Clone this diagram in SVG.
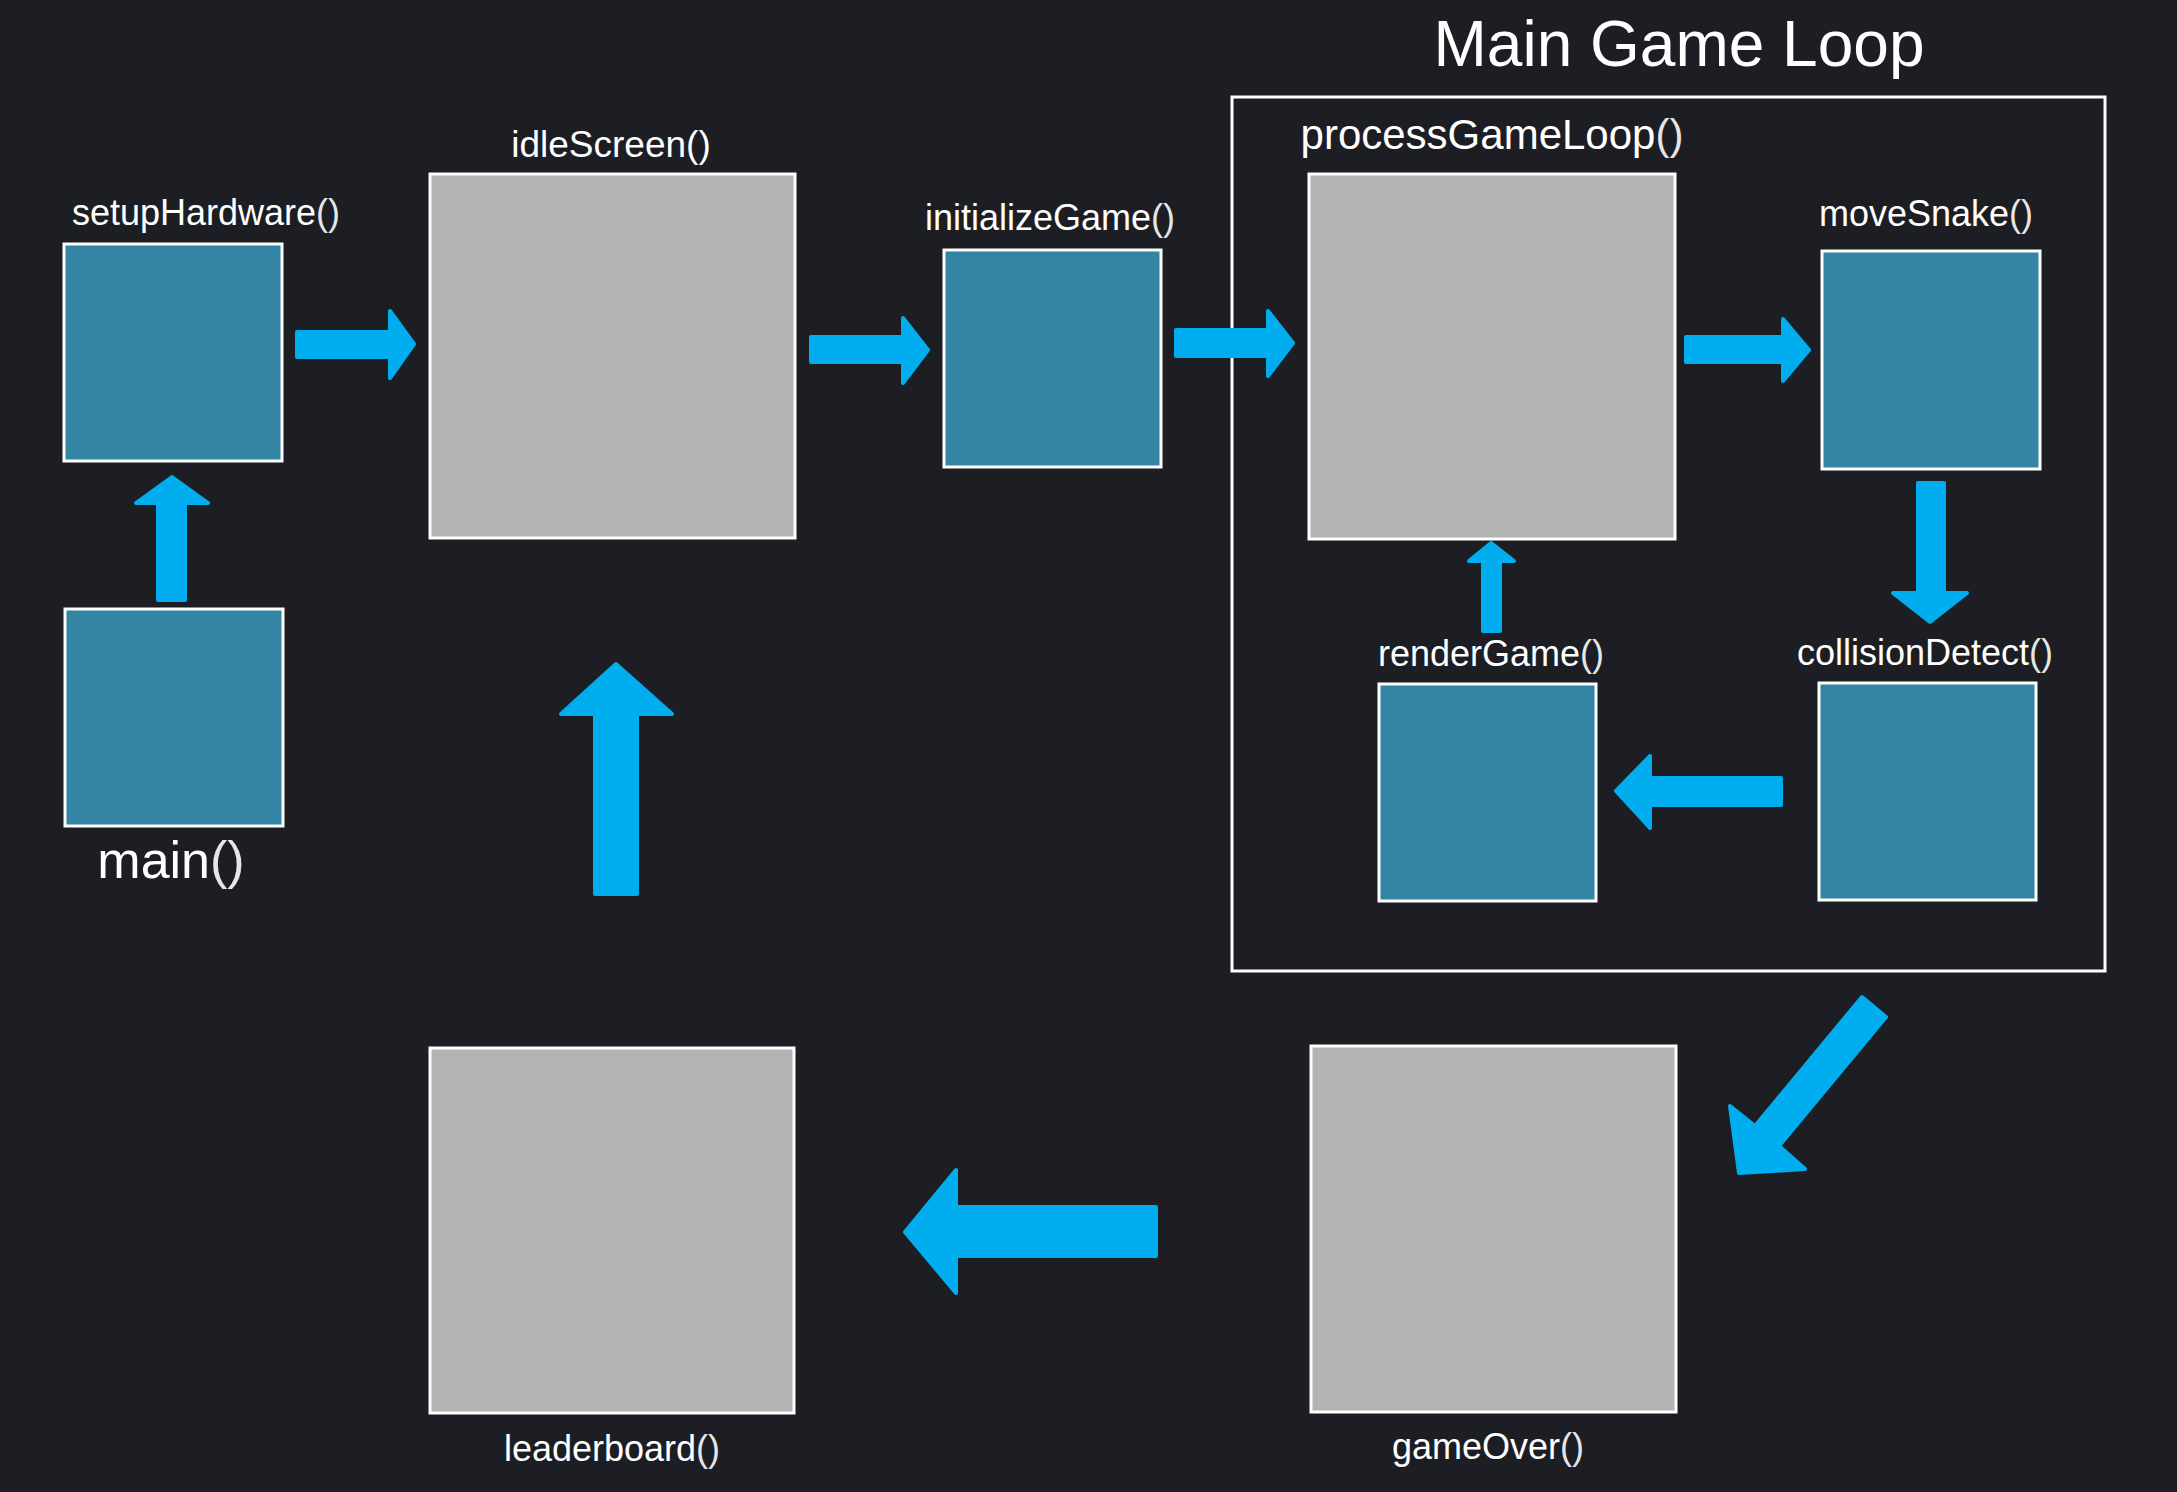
<svg xmlns="http://www.w3.org/2000/svg" width="2177" height="1492" viewBox="0 0 2177 1492">
<style>
.bg{fill:#1d1e23}
.teal{fill:#3385a3;stroke:#ffffff;stroke-width:3}
.gray{fill:#b3b3b4;stroke:#ffffff;stroke-width:3}
.frame{fill:none;stroke:#ffffff;stroke-width:3}
.lbl{font-family:"Liberation Sans",Arial,sans-serif;fill:#ffffff;text-anchor:middle}
.arr{fill:#00aeef;stroke:#00aeef;stroke-width:4;stroke-linejoin:round}
.p{fill:#e6e6e6}
</style>
<rect class="bg" x="0" y="0" width="2177" height="1492"/>

<g id="loop-frame">
<rect class="frame" x="1232" y="97" width="873" height="874"/>
<text class="lbl" x="1679" y="66" font-size="64">Main Game Loop</text>
</g>

<g id="main">
<rect class="teal" x="65" y="609" width="218" height="217"/>
<text class="lbl" x="171" y="878" font-size="52">main<tspan class="p">()</tspan></text>
</g>
<g id="setupHardware">
<rect class="teal" x="64" y="244" width="218" height="217"/>
<text class="lbl" x="206" y="225" font-size="36">setupHardware<tspan class="p">()</tspan></text>
</g>
<g id="idleScreen">
<rect class="gray" x="430" y="174" width="365" height="364"/>
<text class="lbl" x="611" y="157" font-size="37">idleScreen()</text>
</g>
<g id="initializeGame">
<rect class="teal" x="944" y="250" width="217" height="217"/>
<text class="lbl" x="1050" y="230" font-size="36">initializeGame<tspan class="p">()</tspan></text>
</g>
<g id="processGameLoop">
<rect class="gray" x="1309" y="174" width="366" height="365"/>
<text class="lbl" x="1492" y="149" font-size="42">processGameLoop<tspan class="p">()</tspan></text>
</g>
<g id="moveSnake">
<rect class="teal" x="1822" y="251" width="218" height="218"/>
<text class="lbl" x="1926" y="226" font-size="36">moveSnake<tspan class="p">()</tspan></text>
</g>
<g id="collisionDetect">
<rect class="teal" x="1819" y="683" width="217" height="217"/>
<text class="lbl" x="1925" y="665" font-size="36">collisionDetect<tspan class="p">()</tspan></text>
</g>
<g id="renderGame">
<rect class="teal" x="1379" y="684" width="217" height="217"/>
<text class="lbl" x="1491" y="666" font-size="36">renderGame<tspan class="p">()</tspan></text>
</g>
<g id="gameOver">
<rect class="gray" x="1311" y="1046" width="365" height="366"/>
<text class="lbl" x="1488" y="1459" font-size="36">gameOver<tspan class="p">()</tspan></text>
</g>
<g id="leaderboard">
<rect class="gray" x="430" y="1048" width="364" height="365"/>
<text class="lbl" x="612" y="1461" font-size="36">leaderboard<tspan class="p">()</tspan></text>
</g>

<g id="connectors">
<polygon class="arr" points="297,332 390,332 390,311 414,344 390,378 390,357 297,357"/>
<polygon class="arr" points="811,337 903,337 903,318 928,350 903,383 903,362 811,362"/>
<polygon class="arr" points="1176,330 1268,330 1268,311 1293,343 1268,376 1268,356 1176,356"/>
<polygon class="arr" points="1686,337 1783,337 1783,319 1809,350 1783,381 1783,362 1686,362"/>
<polygon class="arr" points="1918,483 1944,483 1944,593 1967,593 1930,622 1893,593 1918,593"/>
<polygon class="arr" points="1781,778 1650,778 1650,756 1616,791 1650,828 1650,805 1781,805"/>
<polygon class="arr" points="1483,631 1483,561 1469,561 1491,543 1514,561 1500,561 1500,631"/>
<polygon class="arr" points="1862,997 1755,1126 1730,1106 1739,1173 1805,1169 1779,1146 1886,1017"/>
<polygon class="arr" points="1156,1207 956,1207 956,1170 905,1232 956,1293 956,1256 1156,1256"/>
<polygon class="arr" points="595,894 595,714 561,714 616,664 672,714 637,714 637,894"/>
<polygon class="arr" points="158,600 158,503 136,503 172,477 208,503 185,503 185,600"/>
</g>
</svg>
